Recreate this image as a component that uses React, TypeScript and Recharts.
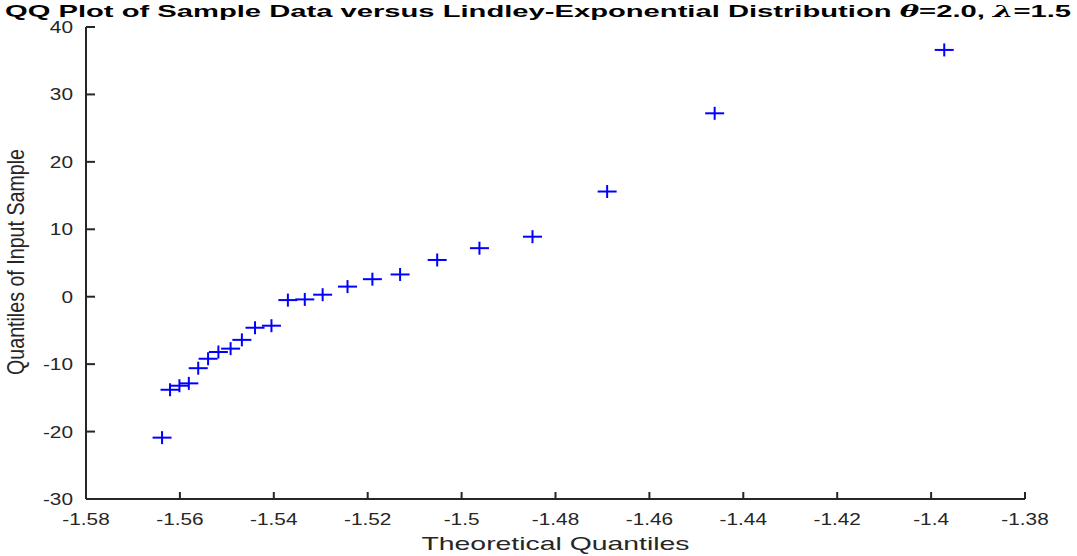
import { ScatterChart, Scatter, XAxis, YAxis, Label } from 'recharts';

// theoretical quantiles (x) and sample quantiles (y)
const theoretical = [
  -1.5638, -1.5621, -1.5601, -1.5581, -1.5561, -1.554, -1.5518, -1.5492, -1.5468, -1.544, -1.5405, -1.537,
  -1.5334, -1.5296, -1.5243, -1.519, -1.5131, -1.5052, -1.4962, -1.4849, -1.469, -1.4461, -1.3972,
];
const sample = [
  -20.9, -13.8, -13.2, -12.85, -10.6, -9.2, -8.2, -7.7, -6.4, -4.6, -4.3, -0.5,
  -0.4, 0.3, 1.5, 2.6, 3.3, 5.45, 7.2, 8.9, 15.6, 27.2, 36.6,
];
const xTicks = [-1.58, -1.56, -1.54, -1.52, -1.5, -1.48, -1.46, -1.44, -1.42, -1.4, -1.38];
const yTicks = [-30, -20, -10, 0, 10, 20, 30, 40];

const points = theoretical.map((t, i) => ({ x: t, y: sample[i] }));

const AXIS = '#262626';
const FONT = '"Liberation Sans", Arial, Helvetica, sans-serif';
const X_MARGIN = 4;
const Y_MARGIN = 4;

function XTick(props: any) {
  const { x, y, payload } = props;
  const axisY = y - X_MARGIN;
  return (
    <g>
      <line x1={x} x2={x} y1={axisY} y2={axisY - 7} stroke={AXIS} strokeWidth={2} />
      <text
        transform={`translate(${x},${axisY + 26}) scale(1.3,1)`}
        textAnchor="middle"
        fontSize={16}
        fontFamily={FONT}
        fill={AXIS}
      >
        {String(payload.value)}
      </text>
    </g>
  );
}

function YTick(props: any) {
  const { x, y, payload } = props;
  const axisX = x + Y_MARGIN;
  return (
    <g>
      <line x1={axisX} x2={axisX + 9} y1={y} y2={y} stroke={AXIS} strokeWidth={2} />
      <text
        transform={`translate(${axisX - 13},${y + 6}) scale(1.3,1)`}
        textAnchor="end"
        fontSize={16}
        fontFamily={FONT}
        fill={AXIS}
      >
        {String(payload.value)}
      </text>
    </g>
  );
}

function Plus(props: any) {
  const { cx, cy } = props;
  return (
    <g stroke="#0000ff" strokeWidth={2}>
      <line x1={cx - 9.5} x2={cx + 9.5} y1={cy} y2={cy} />
      <line x1={cx} x2={cx} y1={cy - 6.5} y2={cy + 6.5} />
    </g>
  );
}

export default function App() {
  return (
    <div style={{ position: 'absolute', left: 0, top: 0, width: 1077, height: 556, background: '#fff' }}>
      <ScatterChart width={1077} height={556} margin={{ top: 27, right: 52, bottom: 0, left: 0 }}>
        <XAxis
          type="number"
          dataKey="x"
          domain={[-1.58, -1.38]}
          ticks={xTicks}
          allowDataOverflow
          height={57}
          tickSize={0}
          tickMargin={X_MARGIN}
          tick={<XTick />}
          axisLine={{ stroke: AXIS, strokeWidth: 2 }}
        >
          <Label
            content={(p: any) => {
              const vb = p.viewBox;
              return (
                <text
                  x={vb.x + vb.width / 2}
                  y={vb.y + 51}
                  textAnchor="middle"
                  fontSize={19}
                  fontFamily={FONT}
                  fill={AXIS}
                  textLength={268}
                  lengthAdjust="spacingAndGlyphs"
                >
                  Theoretical Quantiles
                </text>
              );
            }}
          />
        </XAxis>
        <YAxis
          type="number"
          dataKey="y"
          domain={[-30, 40]}
          ticks={yTicks}
          allowDataOverflow
          width={86}
          tickSize={0}
          tickMargin={Y_MARGIN}
          tick={<YTick />}
          axisLine={{ stroke: AXIS, strokeWidth: 2 }}
        >
          <Label
            content={(p: any) => {
              const vb = p.viewBox;
              const cy = vb.y + vb.height / 2 - 1;
              return (
                <text
                  transform={`translate(24,${cy}) rotate(-90) scale(1,1.3)`}
                  textAnchor="middle"
                  fontSize={18}
                  fontFamily={FONT}
                  fill={AXIS}
                  textLength={226}
                  lengthAdjust="spacingAndGlyphs"
                >
                  Quantiles of Input Sample
                </text>
              );
            }}
          />
        </YAxis>
        <Scatter data={points} shape={<Plus />} isAnimationActive={false} />
      </ScatterChart>
      <svg width={1077} height={30} style={{ position: 'absolute', left: 0, top: 0 }}>
        <text
          x={538}
          y={17}
          textAnchor="middle"
          fontSize={17}
          fontWeight="bold"
          fontFamily={FONT}
          fill="#000"
          textLength={1066}
          lengthAdjust="spacingAndGlyphs"
        >
          QQ Plot of Sample Data versus Lindley-Exponential Distribution{' '}
          <tspan fontFamily='"DejaVu Serif", "Liberation Serif", serif' fontStyle="italic">θ</tspan>=2.0,{' '}
          <tspan fontFamily='"DejaVu Serif", "Liberation Serif", serif' fontStyle="italic">λ</tspan>=1.5
        </text>
      </svg>
    </div>
  );
}
